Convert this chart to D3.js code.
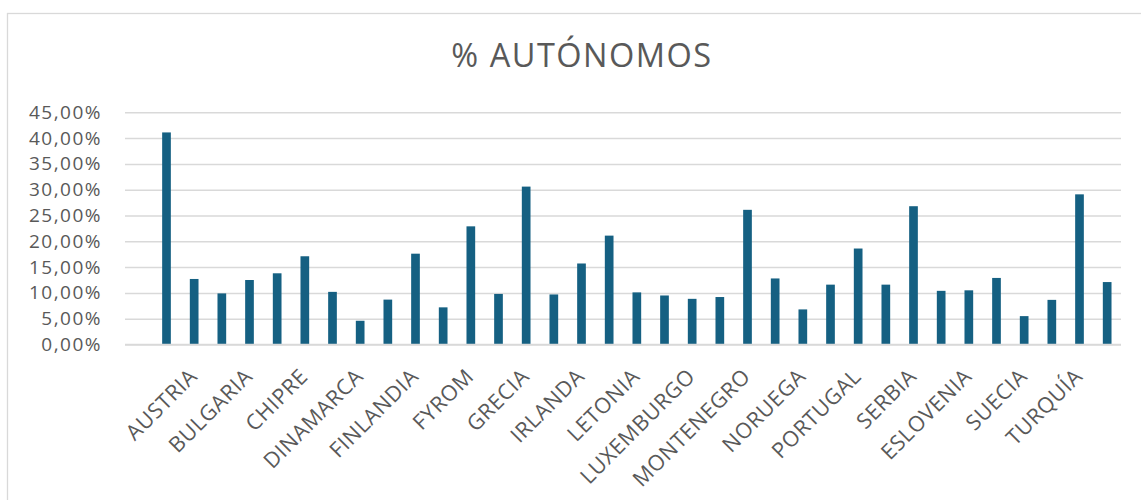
<!DOCTYPE html>
<html>
<head>
<meta charset="utf-8">
<script src="https://cdn.jsdelivr.net/npm/d3@7"></script>
<style>
  html, body { margin: 0; padding: 0; background: #fff; }
  svg { display: block; }
  text { font-family: "Open Sans", "Noto Sans", sans-serif; fill: #595959; }
</style>
</head>
<body>
<svg id="chart" width="1141" height="500"></svg>
<script>
// ---- data ----
const categories = ["", "ALBANIA", "AUSTRIA", "BÉLGICA", "BULGARIA", "CROACIA", "CHIPRE", "REPÚBLICA CHECA",
  "DINAMARCA", "ESTONIA", "FINLANDIA", "FRANCIA", "FYROM", "ALEMANIA", "GRECIA", "HUNGRÍA",
  "IRLANDA", "ITALIA", "LETONIA", "LITUANIA", "LUXEMBURGO", "MALTA", "MONTENEGRO", "PAÍSES BAJOS",
  "NORUEGA", "POLONIA", "PORTUGAL", "RUMANÍA", "SERBIA", "ESLOVAQUIA", "ESLOVENIA", "ESPAÑA",
  "SUECIA", "SUIZA", "TURQUÍA", "REINO UNIDO"];
const values = [null, 0.411, 0.127, 0.099, 0.125, 0.138, 0.171, 0.102,
  0.046, 0.087, 0.176, 0.072, 0.229, 0.098, 0.306, 0.097,
  0.157, 0.211, 0.101, 0.095, 0.0885, 0.092, 0.261, 0.128,
  0.068, 0.116, 0.186, 0.116, 0.268, 0.104, 0.105, 0.129,
  0.055, 0.0865, 0.291, 0.121];
const yTicks = [0, 0.05, 0.10, 0.15, 0.20, 0.25, 0.30, 0.35, 0.40, 0.45];
const title = "% AUTÓNOMOS";

// ---- layout ----
const svg = d3.select("#chart");
const plot = { left: 125, right: 1121, top: 112.3, bottom: 344.5 };

// outer frame
svg.append("rect").attr("x", 7.5).attr("y", 13.5).attr("width", 1150).attr("height", 600)
  .attr("fill", "none").attr("stroke", "#d9d9d9").attr("stroke-width", 1.3);

const x = d3.scaleBand().domain(categories.map((c, i) => i))
  .range([plot.left, plot.right]).paddingInner(0.686).paddingOuter(0.343);
const y = d3.scaleLinear().domain([0, 0.45]).range([plot.bottom, plot.top]);

const locale = d3.formatLocale({ decimal: ",", thousands: ".", grouping: [3], currency: ["", "€"] });
const fmt = locale.format(".2%");

// gridlines + y labels via axis
const yAxis = d3.axisLeft(y).tickValues(yTicks).tickFormat(fmt)
  .tickSize(-(plot.right - plot.left)).tickPadding(23);
const gy = svg.append("g").attr("transform", `translate(${plot.left},0)`).call(yAxis);
gy.select(".domain").remove();
gy.selectAll(".tick line").attr("stroke", "#d9d9d9").attr("stroke-width", 1.5);
gy.selectAll(".tick text").attr("font-size", 19).attr("fill", "#595959")
  .style("letter-spacing", "1.5px").attr("font-family", "'Open Sans', sans-serif");

// bars
svg.append("g").selectAll("rect")
  .data(values.map((v, i) => ({ v, i })).filter(d => d.v != null))
  .join("rect")
  .attr("x", d => x(d.i))
  .attr("width", x.bandwidth())
  .attr("y", d => y(d.v))
  .attr("height", d => y(0) - y(d.v))
  .attr("fill", "#156082");

// x labels (every other category)
const xAxis = d3.axisBottom(x).tickSize(0).tickFormat(i => (i % 2 === 0 ? categories[i] : ""));
const gx = svg.append("g").attr("transform", `translate(0,${plot.bottom})`).call(xAxis);
gx.select(".domain").attr("stroke", "#d9d9d9").attr("stroke-width", 1.5)
  .attr("d", `M${plot.left},0H${plot.right}`);
gx.selectAll(".tick text")
  .attr("font-size", 21.5)
  .attr("fill", "#595959")
  .style("letter-spacing", "0.6px")
  .attr("text-anchor", "end")
  .attr("dy", "0.35em")
  .attr("y", 0)
  .attr("transform", "translate(-1,28) rotate(-45)");

// title
svg.append("text").attr("x", 582).attr("y", 67).attr("text-anchor", "middle")
  .attr("font-size", 32.5).style("letter-spacing", "1.5px").attr("fill", "#595959")
  .text(title);
</script>
</body>
</html>
